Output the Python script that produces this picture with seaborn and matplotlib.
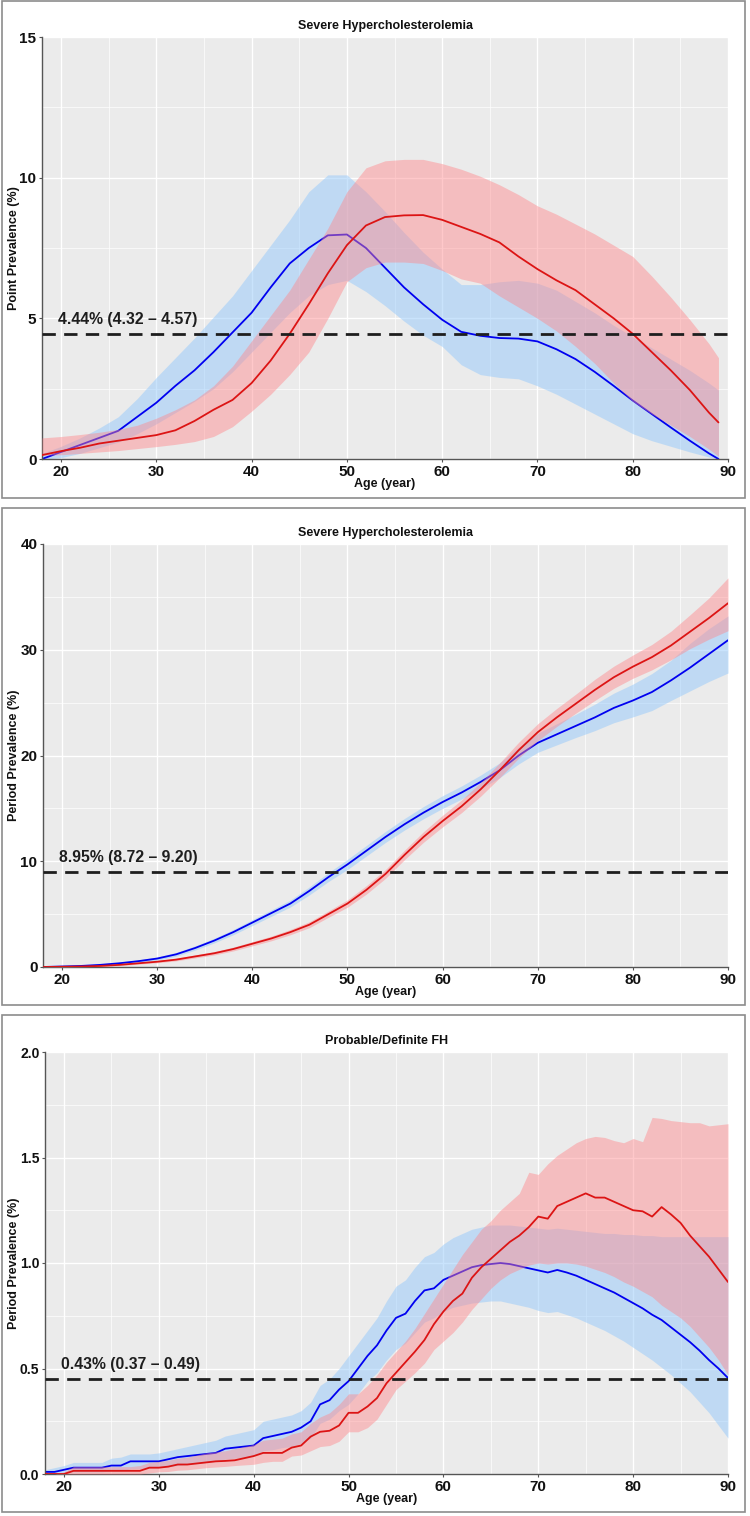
import numpy as np
import matplotlib
matplotlib.use("Agg")
import matplotlib.pyplot as plt
from matplotlib.patches import Rectangle
import seaborn as sns

# ---------------- data ----------------
# Panel 1: point prevalence, severe hypercholesterolemia
AGE_P1 = [18, 20, 22, 24, 26, 28, 30, 32, 34, 36, 38, 40, 42, 44, 46, 48, 50, 52, 54, 56,
          58, 60, 62, 64, 66, 68, 70, 72, 74, 76, 78, 80, 82, 84, 86, 88, 89]
P1_BLUE = [0.0, 0.25, 0.5, 0.75, 1.0, 1.5, 2.0, 2.6, 3.15, 3.8, 4.5, 5.2, 6.1, 6.95, 7.5, 7.95,
           7.98, 7.5, 6.8, 6.1, 5.5, 4.95, 4.52, 4.38, 4.3, 4.28, 4.18, 3.9, 3.55, 3.1, 2.6,
           2.08, 1.6, 1.12, 0.65, 0.2, 0.0]
P1_BLUE_LO = [0.0, 0.05, 0.2, 0.4, 0.6, 0.9, 1.25, 1.65, 2.05, 2.5, 3.1, 3.8, 4.5, 5.2, 5.8,
              6.2, 6.35, 5.95, 5.45, 4.9, 4.4, 4.0, 3.35, 3.0, 2.9, 2.85, 2.6, 2.3, 1.95, 1.6,
              1.25, 0.9, 0.65, 0.45, 0.25, 0.07, 0.0]
P1_BLUE_HI = [0.2, 0.45, 0.75, 1.1, 1.5, 2.15, 2.9, 3.6, 4.3, 5.05, 5.8, 6.7, 7.6, 8.5, 9.5,
              10.1, 10.1, 9.5, 8.8, 8.05, 7.35, 6.75, 6.2, 6.2, 6.3, 6.35, 6.25, 6.0, 5.6, 5.2,
              4.75, 4.35, 3.95, 3.55, 3.15, 2.7, 2.45]
P1_RED = [0.14, 0.28, 0.4, 0.55, 0.65, 0.75, 0.85, 1.02, 1.35, 1.75, 2.1, 2.7, 3.5, 4.45, 5.5,
          6.6, 7.6, 8.3, 8.6, 8.66, 8.67, 8.5, 8.25, 8.0, 7.7, 7.2, 6.75, 6.35, 6.0, 5.5, 5.0,
          4.45, 3.8, 3.15, 2.45, 1.65, 1.3]
P1_RED_LO = [0.14, 0.15, 0.2, 0.25, 0.3, 0.37, 0.44, 0.52, 0.62, 0.8, 1.15, 1.7, 2.3, 3.0, 3.8,
             5.0, 6.3, 6.8, 7.0, 7.0, 6.95, 6.7, 6.4, 6.25, 5.8, 5.4, 5.0, 4.55, 4.0, 3.4, 2.7,
             2.05, 1.6, 1.2, 0.8, 0.35, 0.1]
P1_RED_HI = [0.75, 0.8, 0.87, 0.95, 1.05, 1.2, 1.45, 1.75, 2.1, 2.6, 3.3, 4.2, 5.1, 6.0, 7.1,
             8.2, 9.5, 10.35, 10.6, 10.65, 10.65, 10.5, 10.3, 10.05, 9.75, 9.4, 9.0, 8.7, 8.35,
             8.0, 7.6, 7.2, 6.5, 5.75, 4.95, 4.1, 3.6]

# Panel 2: period prevalence, severe hypercholesterolemia
AGE_P2 = [18, 20, 22, 24, 26, 28, 30, 32, 34, 36, 38, 40, 42, 44, 46, 48, 50, 52, 54, 56,
          58, 60, 62, 64, 66, 68, 70, 72, 74, 76, 78, 80, 82, 84, 86, 88, 90]
P2_BLUE = [0.0, 0.05, 0.1, 0.2, 0.35, 0.55, 0.8, 1.2, 1.8, 2.5, 3.3, 4.2, 5.1, 6.0, 7.2, 8.5,
           9.7, 11.0, 12.3, 13.5, 14.6, 15.6, 16.5, 17.5, 18.6, 20.0, 21.2, 22.0, 22.8, 23.6,
           24.5, 25.2, 26.0, 27.1, 28.3, 29.6, 30.9]
P2_BLUE_LO = [0.0, 0.0, 0.02, 0.1, 0.25, 0.43, 0.65, 1.02, 1.6, 2.28, 3.05, 3.92, 4.8, 5.67,
              6.82, 8.08, 9.22, 10.5, 11.78, 12.95, 14.02, 15.0, 15.88, 16.85, 17.9, 19.2,
              20.3, 21.0, 21.7, 22.35, 23.1, 23.65, 24.25, 25.2, 26.1, 27.0, 27.8]
P2_BLUE_HI = [0.05, 0.1, 0.18, 0.3, 0.45, 0.67, 0.95, 1.38, 2.0, 2.72, 3.55, 4.48, 5.4, 6.33,
              7.58, 8.92, 10.18, 11.5, 12.82, 14.05, 15.18, 16.2, 17.12, 18.15, 19.3, 20.8,
              22.1, 23.0, 23.9, 24.85, 25.9, 26.75, 27.75, 29.0, 30.6, 32.0, 33.2]
P2_RED = [0.0, 0.02, 0.05, 0.1, 0.2, 0.35, 0.5, 0.7, 1.0, 1.3, 1.7, 2.2, 2.7, 3.3, 4.0, 5.0,
          6.0, 7.3, 8.8, 10.6, 12.3, 13.8, 15.2, 16.8, 18.6, 20.5, 22.2, 23.6, 24.9, 26.2,
          27.4, 28.4, 29.3, 30.4, 31.7, 33.0, 34.4]
P2_RED_LO = [0.0, 0.0, 0.02, 0.05, 0.13, 0.27, 0.4, 0.58, 0.86, 1.14, 1.52, 2.0, 2.48, 3.05,
             3.72, 4.7, 5.65, 6.9, 8.38, 10.15, 11.8, 13.25, 14.6, 16.15, 17.9, 19.75, 21.4,
             22.75, 24.0, 25.2, 26.35, 27.3, 28.1, 29.05, 30.1, 31.0, 31.8]
P2_RED_HI = [0.03, 0.05, 0.08, 0.15, 0.27, 0.43, 0.6, 0.82, 1.14, 1.46, 1.88, 2.4, 2.92, 3.55,
             4.28, 5.3, 6.35, 7.7, 9.22, 11.05, 12.8, 14.35, 15.8, 17.45, 19.3, 21.25, 23.0,
             24.45, 25.8, 27.2, 28.45, 29.5, 30.5, 31.75, 33.3, 34.9, 36.8]

# Panel 3: period prevalence, probable/definite FH (one value per year of age)
AGE_P3 = list(range(18, 91))
P3_BLUE = [0.01, 0.01, 0.02, 0.03, 0.03, 0.03, 0.03, 0.04, 0.04, 0.06, 0.06, 0.06, 0.06, 0.07,
           0.08, 0.085, 0.09, 0.095, 0.1, 0.12, 0.125, 0.13, 0.135, 0.17, 0.18, 0.19, 0.2, 0.22,
           0.25, 0.33, 0.35, 0.4, 0.44, 0.5, 0.56, 0.61, 0.68, 0.74, 0.76, 0.82, 0.87, 0.88,
           0.92, 0.94, 0.96, 0.98, 0.99, 0.995, 1.0, 0.995, 0.985, 0.975, 0.965, 0.955, 0.967,
           0.955, 0.94, 0.92, 0.9, 0.88, 0.86, 0.835, 0.81, 0.785, 0.755, 0.73, 0.695, 0.66,
           0.625, 0.585, 0.54, 0.5, 0.455]
P3_BLUE_LO = [0.0, 0.0, 0.005, 0.01, 0.01, 0.01, 0.01, 0.015, 0.015, 0.025, 0.025, 0.03, 0.03,
              0.035, 0.04, 0.045, 0.05, 0.055, 0.06, 0.07, 0.075, 0.08, 0.085, 0.11, 0.115,
              0.125, 0.13, 0.145, 0.17, 0.24, 0.26, 0.3, 0.33, 0.38, 0.44, 0.48, 0.54, 0.59,
              0.62, 0.67, 0.72, 0.74, 0.77, 0.79, 0.8, 0.81, 0.815, 0.82, 0.82, 0.81, 0.8, 0.79,
              0.775, 0.765, 0.77, 0.755, 0.74, 0.72, 0.7, 0.68, 0.655, 0.63, 0.6, 0.57, 0.54,
              0.505, 0.47, 0.43, 0.39, 0.34, 0.29, 0.23, 0.17]
P3_BLUE_HI = [0.02, 0.03, 0.04, 0.055, 0.055, 0.055, 0.055, 0.075, 0.08, 0.095, 0.095, 0.095,
              0.1, 0.11, 0.12, 0.13, 0.14, 0.15, 0.16, 0.18, 0.19, 0.2, 0.21, 0.25, 0.26, 0.27,
              0.28, 0.3, 0.34, 0.42, 0.45, 0.5, 0.56, 0.62, 0.68, 0.74, 0.82, 0.89, 0.92, 0.98,
              1.03, 1.05, 1.09, 1.12, 1.14, 1.16, 1.17, 1.18, 1.18, 1.18, 1.175, 1.17, 1.165,
              1.16, 1.165, 1.16, 1.155, 1.15, 1.145, 1.14, 1.14, 1.135, 1.135, 1.13, 1.13,
              1.125, 1.125, 1.125, 1.125, 1.125, 1.125, 1.125, 1.125]
P3_RED = [0.0, 0.0, 0.0, 0.015, 0.015, 0.015, 0.015, 0.015, 0.015, 0.015, 0.015, 0.03, 0.03,
          0.035, 0.045, 0.045, 0.05, 0.055, 0.06, 0.062, 0.065, 0.075, 0.085, 0.1, 0.1, 0.1,
          0.125, 0.135, 0.177, 0.2, 0.205, 0.23, 0.29, 0.29, 0.32, 0.36, 0.43, 0.48, 0.53,
          0.58, 0.635, 0.71, 0.77, 0.82, 0.855, 0.93, 0.98, 1.02, 1.06, 1.1, 1.13, 1.17, 1.22,
          1.21, 1.27, 1.29, 1.31, 1.33, 1.31, 1.31, 1.29, 1.27, 1.25, 1.245, 1.22, 1.265,
          1.23, 1.19, 1.13, 1.08, 1.03, 0.97, 0.91]
P3_RED_LO = [0.0, 0.0, 0.0, 0.0, 0.0, 0.0, 0.0, 0.0, 0.0, 0.0, 0.0, 0.005, 0.01, 0.012, 0.018,
             0.02, 0.025, 0.03, 0.033, 0.036, 0.04, 0.043, 0.046, 0.055, 0.06, 0.06, 0.085,
             0.09, 0.11, 0.13, 0.135, 0.155, 0.2, 0.2, 0.22, 0.26, 0.33, 0.4, 0.44, 0.48, 0.525,
             0.59, 0.63, 0.67, 0.72, 0.78, 0.83, 0.88, 0.92, 0.95, 0.97, 0.99, 1.0, 0.995, 1.0,
             1.0, 0.995, 0.985, 0.97, 0.955, 0.935, 0.91, 0.89, 0.865, 0.84, 0.8, 0.77, 0.74,
             0.7, 0.65, 0.6, 0.54, 0.47]
P3_RED_HI = [0.0, 0.0, 0.01, 0.035, 0.035, 0.035, 0.035, 0.035, 0.035, 0.035, 0.04, 0.055,
             0.06, 0.065, 0.075, 0.08, 0.09, 0.1, 0.105, 0.11, 0.12, 0.13, 0.14, 0.16, 0.165,
             0.17, 0.19, 0.2, 0.24, 0.27, 0.29, 0.33, 0.38, 0.38, 0.42, 0.47, 0.53, 0.58, 0.63,
             0.69, 0.76, 0.83, 0.9, 0.97, 1.04, 1.1, 1.16, 1.2, 1.25, 1.29, 1.33, 1.43, 1.42,
             1.47, 1.51, 1.54, 1.57, 1.59, 1.6, 1.595, 1.58, 1.57, 1.59, 1.575, 1.69, 1.685,
             1.675, 1.67, 1.665, 1.665, 1.65, 1.655, 1.66]

TITLES = ["Severe Hypercholesterolemia", "Severe Hypercholesterolemia", "Probable/Definite FH"]
YLABELS = ["Point Prevalence (%)", "Period Prevalence (%)", "Period Prevalence (%)"]
REF_LEVEL = [4.44, 8.95, 0.45]
REF_TEXT = ["4.44% (4.32 \u2013 4.57)", "8.95% (8.72 \u2013 9.20)", "0.43% (0.37 \u2013 0.49)"]
YMAX = [15, 40, 2.0]
YMAJOR = [[0, 5, 10, 15], [0, 10, 20, 30, 40], [0.0, 0.5, 1.0, 1.5, 2.0]]
YTICKLABELS = [["0", "5", "10", "15"], ["0", "10", "20", "30", "40"],
               ["0.0", "0.5", "1.0", "1.5", "2.0"]]
YMINOR = [[2.5, 7.5, 12.5], [5, 15, 25, 35], [0.25, 0.75, 1.25, 1.75]]

# ---------------- style ----------------
sns.set_theme(style="darkgrid", rc={"axes.facecolor": "#EBEBEB", "grid.color": "white"})
plt.rcParams['font.family'] = ['Liberation Sans', 'DejaVu Sans']

BLUE_LINE = "#0000F0"
RED_LINE = "#DC1414"
BLUE_FILL = "#95C9FB"
RED_FILL = "#FF878B"

fig = plt.figure(figsize=(7.5, 15.16), dpi=100)
W, H = 750.0, 1516.0

# axes boxes in pixels: left, top, right, bottom
axes_px = [(42, 37, 728, 459), (43, 544, 728, 967), (45, 1052, 728, 1474)]
frames_px = [(2, 1, 745, 498), (2, 508, 745, 1005), (2, 1015, 745, 1512)]

panels = [
    (AGE_P1, P1_BLUE, P1_BLUE_LO, P1_BLUE_HI, P1_RED, P1_RED_LO, P1_RED_HI),
    (AGE_P2, P2_BLUE, P2_BLUE_LO, P2_BLUE_HI, P2_RED, P2_RED_LO, P2_RED_HI),
    (AGE_P3, P3_BLUE, P3_BLUE_LO, P3_BLUE_HI, P3_RED, P3_RED_LO, P3_RED_HI),
]

for i, (age, b, blo, bhi, r, rlo, rhi) in enumerate(panels):
    # outer frame
    fx0, fy0, fx1, fy1 = frames_px[i]
    fig.patches.append(Rectangle((fx0 / W, 1 - fy1 / H), (fx1 - fx0) / W, (fy1 - fy0) / H,
                                 transform=fig.transFigure, fill=False,
                                 edgecolor="#8c8c8c", linewidth=1.2))

    x0, y0, x1, y1 = axes_px[i]
    ax = fig.add_axes([x0 / W, 1 - y1 / H, (x1 - x0) / W, (y1 - y0) / H])
    ax.set_axisbelow(True)

    ax.fill_between(age, blo, bhi, color=BLUE_FILL, alpha=0.5, linewidth=0, zorder=1)
    sns.lineplot(x=age, y=b, ax=ax, color=BLUE_LINE, linewidth=1.3, zorder=2)
    ax.fill_between(age, rlo, rhi, color=RED_FILL, alpha=0.45, linewidth=0, zorder=3)
    sns.lineplot(x=age, y=r, ax=ax, color=RED_LINE, linewidth=1.3, zorder=4)

    ax.axhline(REF_LEVEL[i], color="#1e1e1e", linewidth=2.0, dashes=(4.8, 3.0), zorder=5)
    ax.annotate(REF_TEXT[i], xy=(0.023, REF_LEVEL[i]), xycoords=("axes fraction", "data"),
                xytext=(0, 5.0), textcoords="offset points", ha="left", va="bottom",
                fontsize=11.3, fontweight="bold", color="#1e1e1e")

    ax.set_xlim(18, 90)
    ax.set_ylim(0, YMAX[i])
    ax.set_xticks([20, 30, 40, 50, 60, 70, 80, 90])
    ax.set_xticks([25, 35, 45, 55, 65, 75, 85], minor=True)
    ax.set_yticks(YMAJOR[i])
    ax.set_yticklabels(YTICKLABELS[i])
    ax.set_yticks(YMINOR[i], minor=True)
    ax.grid(which="major", color="white", linewidth=1.0)
    ax.grid(which="minor", color="white", linewidth=0.5)

    for side in ["top", "right"]:
        ax.spines[side].set_visible(False)
    for side in ["left", "bottom"]:
        ax.spines[side].set_visible(True)
        ax.spines[side].set_color("#555555")
        ax.spines[side].set_linewidth(1.0)

    ax.tick_params(which="major", length=2.5, width=0.8, color="#555555", pad=1.5,
                   labelsize=11, labelcolor="#111111", bottom=True, left=True)
    ax.tick_params(axis="y", which="major", labelsize=(10 if i == 2 else 11))
    ax.tick_params(which="minor", length=0, bottom=False, left=False)
    for lab in ax.get_xticklabels() + ax.get_yticklabels():
        lab.set_fontweight("bold")

    ax.set_xlabel("Age (year)", fontsize=9, fontweight="bold", color="#111111")
    ax.xaxis.set_label_coords(0.5, -19.0 / (y1 - y0))
    ax.set_ylabel(YLABELS[i], fontsize=9, fontweight="bold", color="#111111")
    ax.yaxis.set_label_coords(-(x0 - 20.0) / (x1 - x0), 0.5)

    ax.text(0.5, 1 + 11.0 / (y1 - y0), TITLES[i], transform=ax.transAxes, ha="center",
            va="center", fontsize=9, fontweight="bold", color="#111111")

fig.savefig("out.png", dpi=100, facecolor="white")
